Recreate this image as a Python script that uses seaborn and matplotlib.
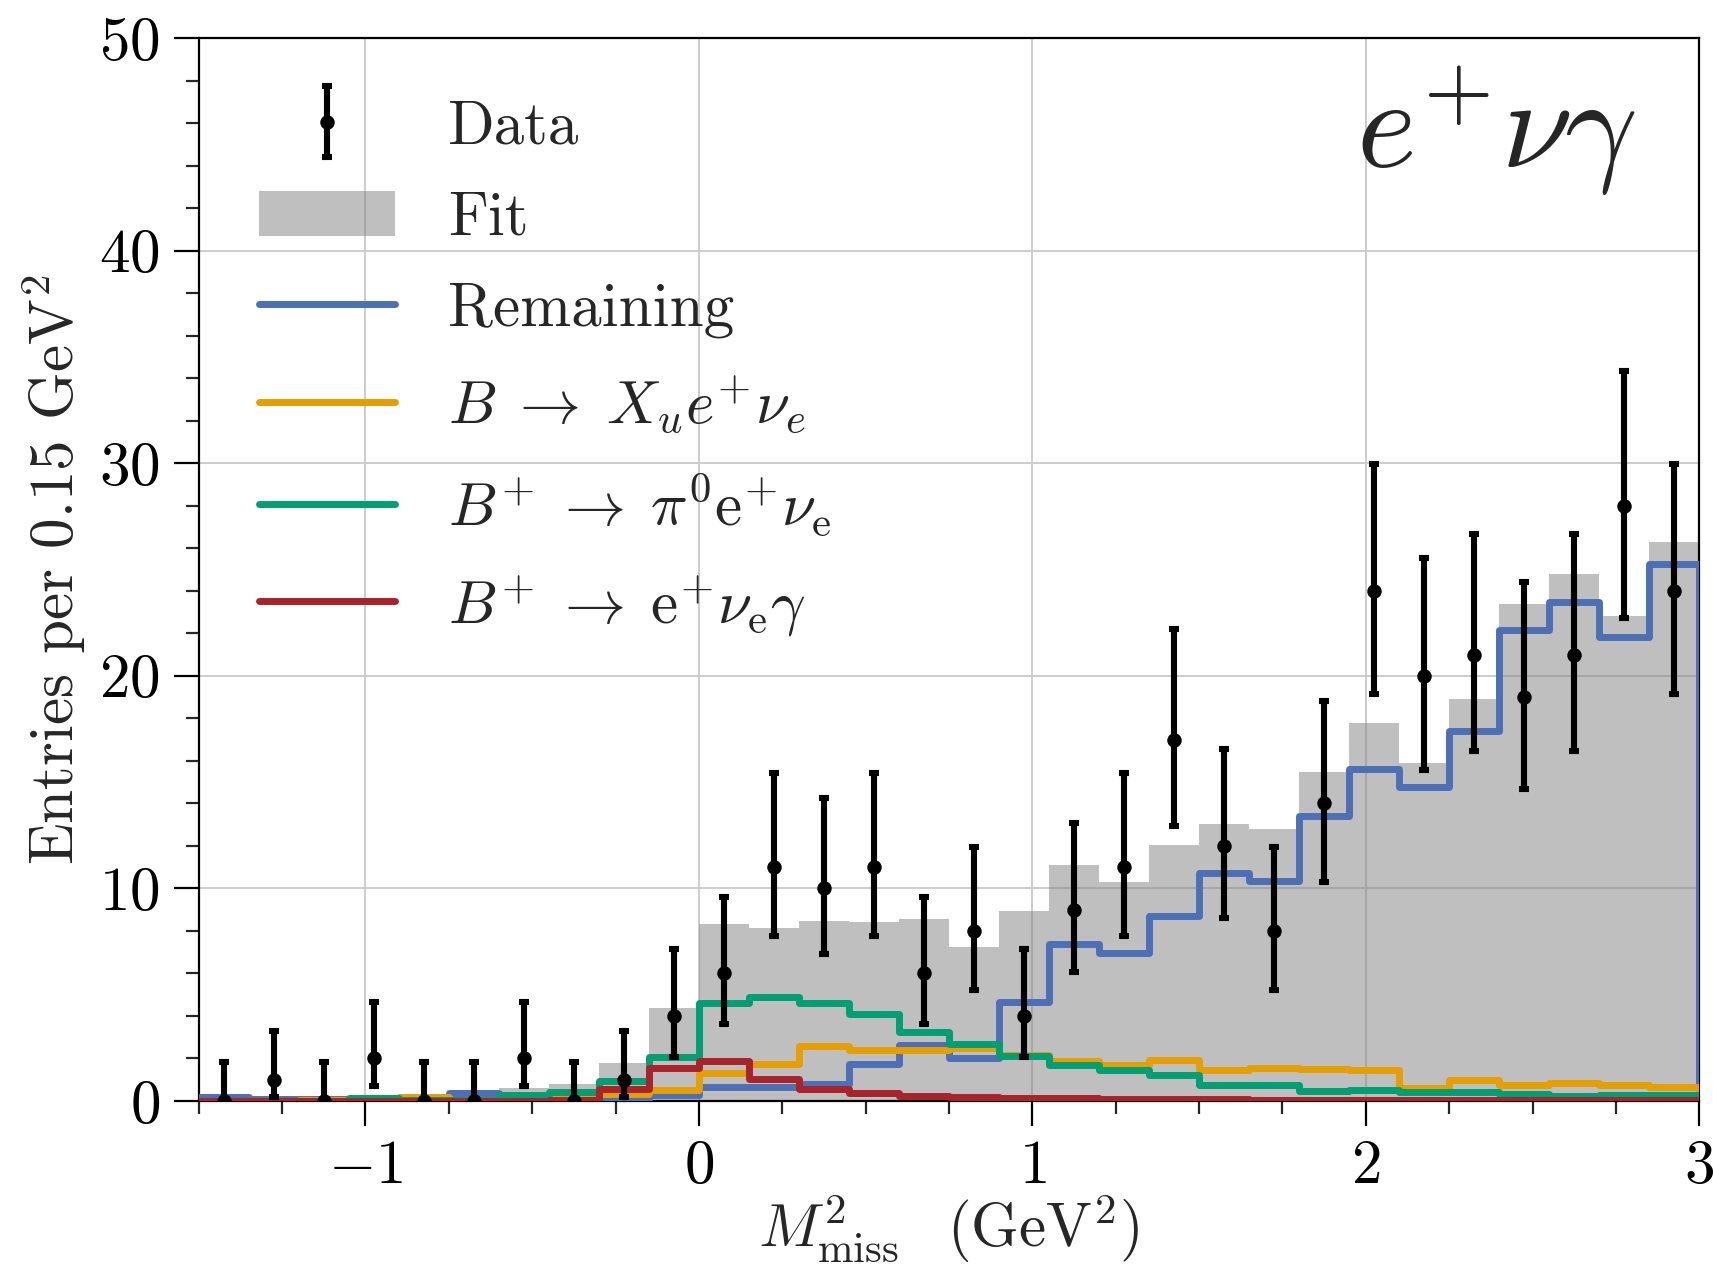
import numpy as np
import pandas as pd
import matplotlib
matplotlib.use("Agg")
import matplotlib.pyplot as plt
import seaborn as sns
from matplotlib.patches import Patch
from matplotlib.lines import Line2D
from matplotlib.legend_handler import HandlerErrorbar
from matplotlib.ticker import MultipleLocator

# ---------------- data ----------------
bin_start = -1.5
bin_width = 0.15
n_bins = 30

data_counts = [0, 1, 0, 2, 0, 0, 2, 0, 1, 4, 6, 11, 10, 11, 6, 8, 4, 9, 11, 17,
               12, 8, 14, 24, 20, 21, 19, 21, 28, 24]
data_lo = [0, 0.17, 0, 0.71, 0, 0, 0.71, 0, 0.17, 2.09, 3.62, 7.74, 6.90, 7.74,
           3.62, 5.24, 2.09, 6.06, 7.74, 12.92, 8.59, 5.24, 10.31, 19.14, 15.57,
           16.46, 14.68, 16.46, 22.74, 19.14]
data_hi = [1.84, 3.30, 1.84, 4.64, 1.84, 1.84, 4.64, 1.84, 3.30, 7.16, 9.58,
           15.41, 14.27, 15.41, 9.58, 11.94, 7.16, 13.10, 15.41, 22.20, 16.55,
           11.94, 18.83, 29.96, 25.54, 26.65, 24.43, 26.65, 34.35, 29.96]

fit = [0.20, 0.10, 0.13, 0.28, 0.30, 0.48, 0.60, 0.78, 1.78, 4.36, 8.34, 8.14,
       8.45, 8.42, 8.54, 7.25, 8.95, 11.10, 10.32, 12.03, 13.01, 12.78, 15.47,
       17.77, 15.90, 18.92, 23.38, 24.81, 22.81, 26.31]
remaining = [0.17, 0.08, 0.08, 0.08, 0.08, 0.38, 0.13, 0.07, 0.10, 0.30, 0.66,
             0.67, 0.80, 1.72, 2.63, 2.03, 4.66, 7.40, 6.96, 8.72, 10.72, 10.36,
             13.41, 15.64, 14.77, 17.40, 22.16, 23.45, 21.81, 25.28]
xu = [0.02, 0.02, 0.03, 0.05, 0.17, 0.05, 0.12, 0.22, 0.31, 0.50, 1.30, 1.74,
      2.58, 2.39, 2.42, 2.50, 2.16, 1.90, 1.71, 1.95, 1.45, 1.55, 1.50, 1.48,
      0.59, 1.00, 0.77, 0.87, 0.73, 0.66]
pi0 = [0.0, 0.0, 0.02, 0.15, 0.05, 0.05, 0.30, 0.44, 0.95, 2.05, 4.60, 4.90,
       4.59, 4.07, 3.24, 2.69, 2.10, 1.70, 1.48, 1.22, 0.77, 0.77, 0.49, 0.54,
       0.42, 0.42, 0.35, 0.23, 0.30, 0.30]
enug = [0.0, 0.0, 0.0, 0.0, 0.0, 0.0, 0.02, 0.05, 0.58, 1.53, 1.90, 1.03, 0.56,
        0.36, 0.23, 0.20, 0.16, 0.12, 0.10, 0.09, 0.08, 0.07, 0.06, 0.06, 0.05,
        0.05, 0.05, 0.04, 0.04, 0.04]

labels = ["Data", "Fit", "Remaining",
          r"$B\;\rightarrow\;X_u e^{+}\nu_e$",
          r"$B^{+}\;\rightarrow\;\pi^0\mathrm{e}^{+}\nu_\mathrm{e}$",
          r"$B^{+}\;\rightarrow\;\mathrm{e}^{+}\nu_\mathrm{e}\gamma$"]
colors = {"remaining": "#4c6fb5", "xu": "#e69f00", "pi0": "#009e73", "enug": "#a8232a"}

edges = bin_start + bin_width * np.arange(n_bins + 1)
centers = 0.5 * (edges[:-1] + edges[1:])
bin_list = [float(e) for e in edges]
df = pd.DataFrame({"x": centers, "fit": fit, "remaining": remaining, "xu": xu,
                   "pi0": pi0, "enug": enug, "data": data_counts,
                   "lo": data_lo, "hi": data_hi})

# ---------------- style ----------------
sns.set_theme(style="ticks")
plt.rcParams.update({
    "font.family": "serif",
    "font.serif": ["cmr10"],
    "mathtext.fontset": "cm",
    "axes.formatter.use_mathtext": True,
    "axes.unicode_minus": True,
    "axes.edgecolor": "black",
    "axes.linewidth": 0.8,
})

fig, ax = plt.subplots(figsize=(8.565, 6.34), dpi=200)
fig.subplots_adjust(left=0.116, right=0.992, top=0.970, bottom=0.1317)

ax.grid(True, which="major", color="#cccccc", linewidth=0.7)
ax.set_axisbelow(True)

sns.histplot(data=df, x="x", weights="fit", bins=bin_list, element="step",
             fill=True, color="gray", alpha=0.5, linewidth=0, ax=ax, zorder=2)

lw = 2.5
for i, col in enumerate(["remaining", "xu", "pi0", "enug"]):
    sns.histplot(data=df, x="x", weights=col, bins=bin_list, element="step",
                 fill=False, color=colors[col], linewidth=lw, ax=ax, zorder=3 + i)
    ax.vlines(edges[-1], 0, df[col].iloc[-1], color=colors[col], linewidth=lw,
              zorder=3 + i)

yerr = [df["data"] - df["lo"], df["hi"] - df["data"]]
eb = ax.errorbar(df["x"], df["data"], yerr=yerr, fmt="o", color="black",
                 ms=4.2, elinewidth=2.2, capsize=1.9, capthick=2.2, zorder=10)

ax.set_xlim(edges[0], edges[-1])
ax.set_ylim(0, 50)
ax.xaxis.set_major_locator(MultipleLocator(1))
ax.xaxis.set_minor_locator(MultipleLocator(0.25))
ax.yaxis.set_major_locator(MultipleLocator(10))
ax.yaxis.set_minor_locator(MultipleLocator(2))
ax.tick_params(which="major", direction="out", length=9, width=0.8,
               labelsize=22, pad=5, colors="black")
ax.tick_params(which="minor", direction="out", length=4.7, width=0.8)
for s in ax.spines.values():
    s.set_visible(True)
    s.set_color("black")
    s.set_linewidth(0.8)

ax.set_xlabel(r"$M^2_\mathrm{miss}\;\;\;(\mathrm{GeV}^2)$", fontsize=22, labelpad=-1)
ax.set_ylabel(r"Entries per 0.15 GeV$^2$", fontsize=22, labelpad=4)

ax.text(0.771, 0.877, r"$e^{+}\nu\gamma$", transform=ax.transAxes,
        fontsize=46, ha="left", va="baseline")

handles = [eb,
           Patch(facecolor="gray", alpha=0.5, edgecolor="none"),
           Line2D([], [], color=colors["remaining"], lw=lw),
           Line2D([], [], color=colors["xu"], lw=lw),
           Line2D([], [], color=colors["pi0"], lw=lw),
           Line2D([], [], color=colors["enug"], lw=lw)]
ax.legend(handles, labels, loc="upper left", bbox_to_anchor=(0.04, 0.942),
          frameon=False, fontsize=22, handlelength=2.23, handletextpad=0.87,
          labelspacing=0.58, borderpad=0, borderaxespad=0, handleheight=0.75,
          handler_map={type(eb): HandlerErrorbar(xerr_size=0.58)})

fig.savefig("out.png", dpi=200)
